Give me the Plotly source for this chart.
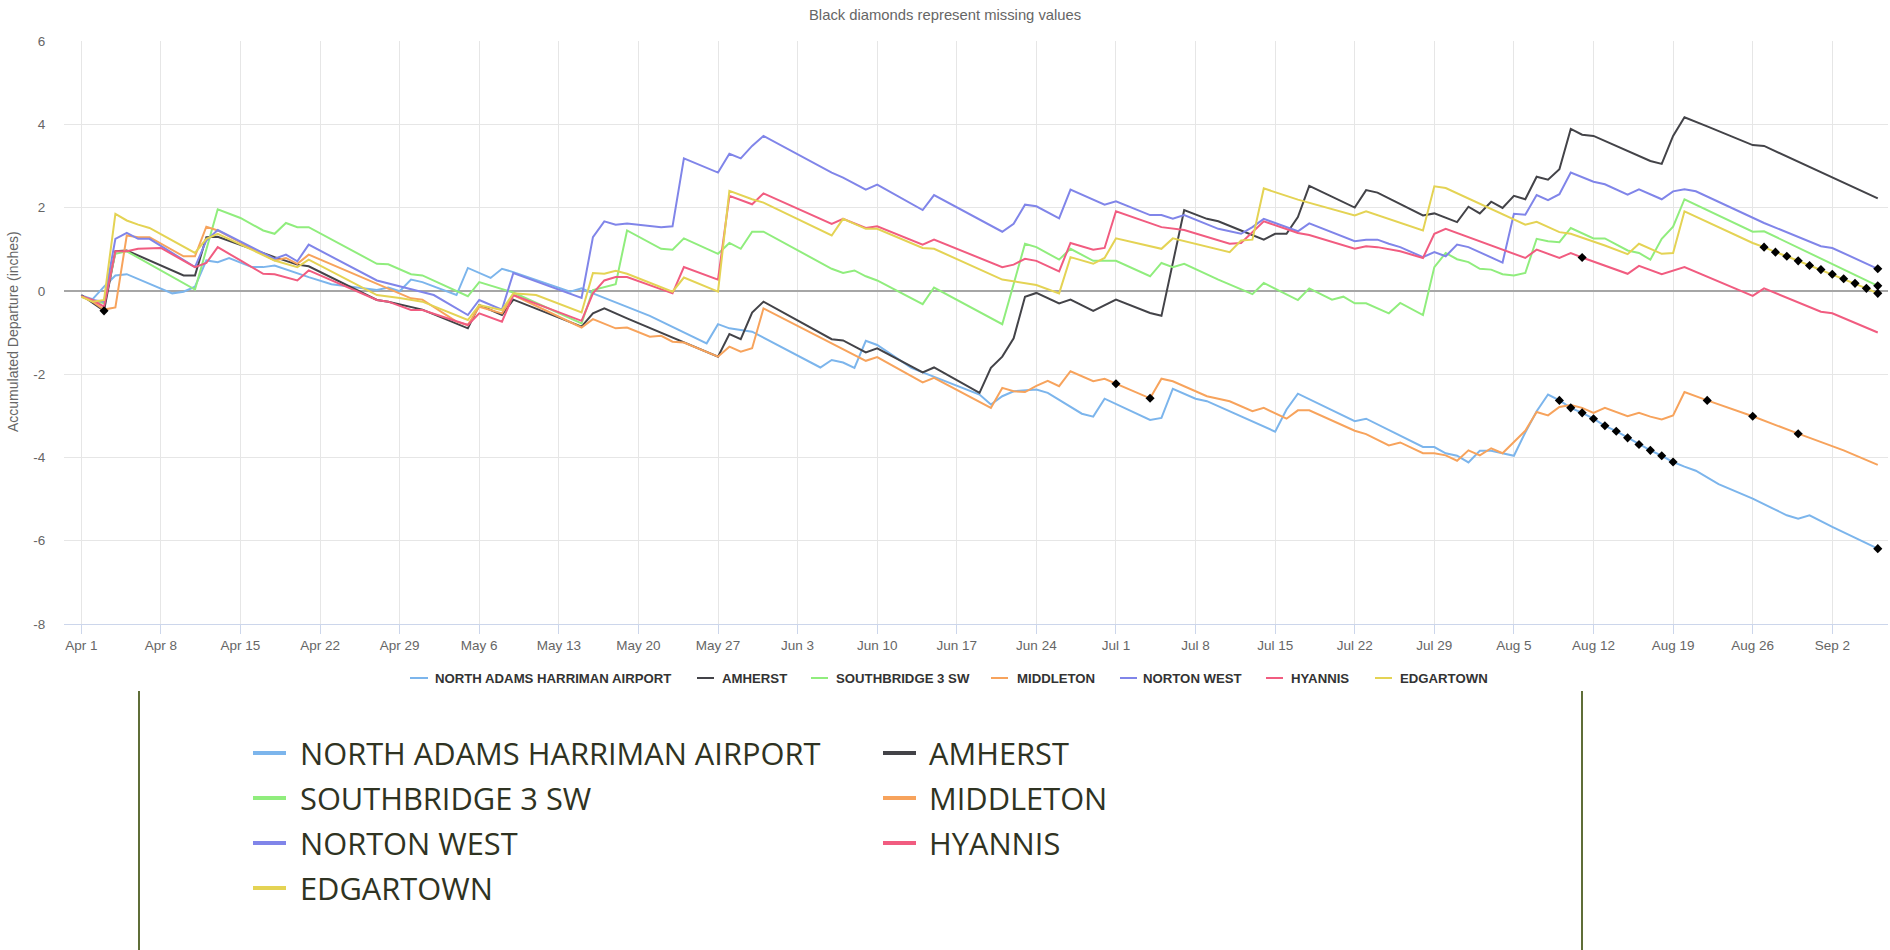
import pandas as pd
import plotly.graph_objects as go

# ---------------- data ----------------
start_date = "2019-04-01"

tick_days = [0, 7, 14, 21, 28, 35, 42, 49, 56, 63, 70, 77, 84, 91, 98, 105, 112, 119, 126, 133, 140, 147, 154]
tick_labels = ["Apr 1", "Apr 8", "Apr 15", "Apr 22", "Apr 29", "May 6", "May 13", "May 20", "May 27",
               "Jun 3", "Jun 10", "Jun 17", "Jun 24", "Jul 1", "Jul 8", "Jul 15", "Jul 22", "Jul 29",
               "Aug 5", "Aug 12", "Aug 19", "Aug 26", "Sep 2"]
y_ticks = [-8, -6, -4, -2, 0, 2, 4, 6]
y_tick_labels = ["-8", "-6", "-4", "-2", "0", "2", "4", "6"]

station_names = ["NORTH ADAMS HARRIMAN AIRPORT", "AMHERST", "SOUTHBRIDGE 3 SW", "MIDDLETON",
                 "NORTON WEST", "HYANNIS", "EDGARTOWN"]

# day offsets from Apr 1 and accumulated departure (inches)
north_adams_days = [0, 1, 2, 3, 4, 8, 9, 10, 11, 12, 13, 15, 16, 17, 20, 22, 26, 27, 28, 29, 30, 33, 34, 36, 37, 38,
                    43, 44, 45, 50, 55, 56, 57, 59, 65, 66, 67, 68, 69, 70, 73, 79, 80, 81, 82, 84, 85, 88, 89, 90,
                    94, 95, 96, 98, 99, 105, 106, 107, 112, 113, 118, 119, 120, 121, 122, 123, 124, 125, 126, 127,
                    128, 129, 130, 131, 132, 133, 134, 135, 136, 137, 138, 139, 140, 141, 142, 144, 147, 150, 151,
                    152, 154, 158]
north_adams_vals = [-0.11, -0.20, 0.10, 0.37, 0.40, -0.06, -0.02, 0.10, 0.73, 0.69, 0.79, 0.57, 0.57, 0.61, 0.33,
                    0.16, 0.02, 0.08, -0.01, 0.27, 0.21, -0.10, 0.55, 0.31, 0.53, 0.45, -0.02, 0.06, -0.06, -0.60,
                    -1.26, -0.80, -0.90, -0.98, -1.84, -1.66, -1.72, -1.85, -1.20, -1.30, -1.85, -2.49, -2.73,
                    -2.53, -2.41, -2.37, -2.45, -2.95, -3.02, -2.59, -3.10, -3.05, -2.35, -2.59, -2.65, -3.38,
                    -2.85, -2.47, -3.13, -3.07, -3.75, -3.75, -3.90, -3.96, -4.12, -3.84, -3.84, -3.90, -3.96,
                    -3.40, -2.89, -2.49, -2.63, -2.81, -2.93, -3.07, -3.24, -3.37, -3.53, -3.69, -3.83, -3.96,
                    -4.11, -4.22, -4.32, -4.64, -4.99, -5.39, -5.47, -5.39, -5.67, -6.19]
north_adams_missing = [130, 131, 132, 133, 134, 135, 136, 137, 138, 139, 140, 158]

amherst_days = [0, 1, 2, 3, 4, 9, 10, 11, 12, 17, 19, 20, 26, 27, 30, 34, 35, 37, 38, 44, 45, 46, 48, 56, 57, 58,
                59, 60, 66, 67, 69, 70, 74, 75, 79, 80, 81, 82, 83, 84, 86, 87, 89, 91, 94, 95, 97, 99, 100, 102,
                104, 105, 106, 107, 108, 112, 113, 114, 118, 119, 121, 122, 123, 124, 125, 126, 127, 128, 129,
                130, 131, 132, 133, 138, 139, 140, 141, 143, 147, 148, 158]
amherst_vals = [-0.10, -0.29, -0.48, 0.95, 0.97, 0.37, 0.37, 1.29, 1.30, 0.81, 0.63, 0.59, -0.22, -0.26, -0.45,
                -0.90, -0.34, -0.58, -0.21, -0.86, -0.54, -0.42, -0.66, -1.58, -1.04, -1.16, -0.52, -0.26, -1.16,
                -1.19, -1.48, -1.38, -1.96, -1.84, -2.45, -1.85, -1.58, -1.14, -0.14, -0.05, -0.30, -0.21, -0.48,
                -0.21, -0.53, -0.60, 1.94, 1.73, 1.67, 1.45, 1.23, 1.37, 1.37, 1.77, 2.52, 2.00, 2.42, 2.36, 1.81,
                1.86, 1.65, 2.02, 1.86, 2.14, 1.99, 2.28, 2.20, 2.74, 2.67, 2.92, 3.89, 3.75, 3.72, 3.12, 3.05,
                3.72, 4.17, 3.95, 3.50, 3.48, 2.22]
amherst_missing = [2]

southbridge_days = [0, 1, 2, 3, 4, 10, 12, 14, 16, 17, 18, 19, 20, 26, 27, 29, 30, 34, 35, 38, 44, 45, 47, 48, 51,
                    52, 53, 56, 57, 58, 59, 60, 66, 67, 68, 69, 70, 74, 75, 81, 83, 84, 86, 87, 89, 91, 94, 95, 96,
                    97, 100, 103, 104, 107, 108, 110, 111, 112, 113, 115, 116, 118, 119, 120, 121, 122, 123, 124,
                    125, 126, 127, 128, 129, 130, 131, 133, 134, 136, 137, 138, 139, 140, 141, 147, 148, 158]
southbridge_vals = [-0.14, -0.22, -0.30, 0.89, 0.95, 0.03, 1.96, 1.75, 1.45, 1.37, 1.63, 1.53, 1.53, 0.65, 0.64,
                    0.40, 0.37, -0.13, 0.21, -0.04, -0.78, 0.02, 0.16, 1.45, 1.01, 0.99, 1.26, 0.89, 1.15, 1.01,
                    1.42, 1.42, 0.53, 0.43, 0.49, 0.35, 0.25, -0.32, 0.08, -0.80, 1.13, 1.05, 0.75, 1.01, 0.72,
                    0.72, 0.35, 0.67, 0.57, 0.65, 0.27, -0.08, 0.19, -0.22, 0.06, -0.21, -0.14, -0.30, -0.30,
                    -0.54, -0.29, -0.58, 0.57, 0.91, 0.76, 0.69, 0.53, 0.51, 0.40, 0.37, 0.43, 1.25, 1.19, 1.17,
                    1.51, 1.26, 1.26, 0.97, 0.91, 0.75, 1.25, 1.54, 2.20, 1.42, 1.43, 0.12]
southbridge_missing = [158]

middleton_days = [0, 1, 2, 3, 4, 5, 6, 9, 10, 11, 12, 17, 18, 19, 20, 29, 30, 33, 34, 35, 37, 38, 44, 45, 47, 48,
                  50, 51, 52, 53, 56, 57, 58, 59, 60, 69, 70, 74, 75, 80, 81, 82, 83, 84, 85, 86, 87, 89, 90, 91,
                  94, 95, 96, 99, 100, 101, 103, 104, 106, 107, 108, 112, 113, 115, 116, 118, 119, 120, 121, 122,
                  123, 124, 125, 126, 127, 128, 129, 130, 131, 132, 133, 134, 135, 136, 137, 138, 139, 140, 141,
                  142, 143, 147, 151, 155, 158]
middleton_vals = [-0.14, -0.26, -0.45, -0.40, 1.33, 1.29, 1.29, 0.83, 0.83, 1.54, 1.45, 0.73, 0.79, 0.65, 0.87,
                  -0.18, -0.21, -0.74, -0.82, -0.38, -0.54, -0.10, -0.88, -0.68, -0.90, -0.88, -1.10, -1.08,
                  -1.22, -1.24, -1.58, -1.34, -1.46, -1.38, -0.42, -1.68, -1.59, -2.20, -2.09, -2.81, -2.33,
                  -2.41, -2.43, -2.28, -2.16, -2.29, -1.93, -2.17, -2.11, -2.23, -2.58, -2.11, -2.17, -2.53,
                  -2.59, -2.65, -2.89, -2.81, -3.07, -2.87, -2.87, -3.36, -3.44, -3.71, -3.64, -3.90, -3.90,
                  -3.95, -4.08, -3.83, -3.95, -3.78, -3.90, -3.64, -3.36, -2.91, -2.99, -2.79, -2.74, -2.81,
                  -2.93, -2.81, -2.91, -3.01, -2.93, -3.02, -3.09, -2.99, -2.43, -2.53, -2.63, -3.01, -3.43,
                  -3.83, -4.18]
middleton_missing = [91, 94, 143, 147, 151]

norton_west_days = [0, 1, 2, 3, 4, 5, 6, 10, 11, 12, 17, 18, 19, 20, 26, 31, 34, 35, 37, 38, 44, 45, 46, 47, 48,
                    51, 52, 53, 56, 57, 58, 59, 60, 66, 67, 69, 70, 74, 75, 81, 82, 83, 84, 86, 87, 90, 91, 94, 95,
                    96, 97, 100, 102, 103, 104, 107, 108, 112, 113, 114, 115, 116, 118, 119, 120, 121, 122, 125,
                    126, 127, 128, 129, 130, 131, 133, 134, 136, 137, 139, 140, 141, 142, 148, 153, 154, 158]
norton_west_vals = [-0.13, -0.22, -0.26, 1.25, 1.39, 1.25, 1.25, 0.57, 1.21, 1.46, 0.77, 0.87, 0.71, 1.11, 0.25,
                    -0.10, -0.58, -0.22, -0.45, 0.43, -0.17, 1.29, 1.67, 1.59, 1.62, 1.53, 1.55, 3.18, 2.84, 3.29,
                    3.18, 3.48, 3.72, 2.84, 2.72, 2.43, 2.55, 1.94, 2.30, 1.42, 1.61, 2.07, 2.03, 1.74, 2.43, 2.07,
                    2.15, 1.82, 1.82, 1.73, 1.82, 1.49, 1.37, 1.53, 1.73, 1.43, 1.62, 1.19, 1.23, 1.23, 1.13, 1.05,
                    0.81, 0.93, 0.83, 1.11, 1.05, 0.68, 1.85, 1.83, 2.30, 2.18, 2.32, 2.84, 2.62, 2.56, 2.31, 2.44,
                    2.20, 2.39, 2.44, 2.39, 1.63, 1.07, 1.03, 0.53]
norton_west_missing = [158]

hyannis_days = [0, 1, 2, 3, 4, 5, 7, 10, 11, 12, 14, 16, 17, 19, 20, 26, 27, 29, 30, 34, 35, 37, 38, 44, 45, 46,
                47, 48, 52, 53, 56, 57, 59, 60, 66, 67, 69, 70, 74, 75, 81, 82, 83, 84, 86, 87, 89, 90, 91, 95,
                97, 101, 102, 103, 104, 107, 108, 112, 113, 114, 116, 118, 119, 120, 127, 128, 130, 131, 132,
                136, 137, 139, 141, 147, 148, 153, 154, 158]
hyannis_vals = [-0.13, -0.22, -0.38, 0.95, 0.95, 1.01, 1.03, 0.57, 0.67, 1.05, 0.73, 0.41, 0.40, 0.25, 0.49,
                -0.22, -0.26, -0.46, -0.46, -0.82, -0.54, -0.74, -0.10, -0.72, -0.06, 0.25, 0.33, 0.33, -0.06,
                0.57, 0.27, 2.28, 2.08, 2.34, 1.61, 1.73, 1.51, 1.55, 1.11, 1.23, 0.57, 0.63, 0.77, 0.72, 0.47,
                1.15, 0.99, 1.03, 1.91, 1.53, 1.46, 1.13, 1.15, 1.42, 1.67, 1.39, 1.34, 1.01, 1.07, 1.05, 0.95,
                0.79, 1.37, 1.49, 0.79, 0.99, 0.79, 0.91, 0.80, 0.41, 0.60, 0.40, 0.57, -0.12, 0.06, -0.50,
                -0.54, -1.00]
hyannis_missing = [132]

edgartown_days = [0, 1, 2, 3, 4, 5, 6, 10, 11, 12, 17, 18, 19, 20, 26, 28, 30, 34, 35, 37, 38, 40, 44, 45, 46, 47,
                  48, 52, 53, 56, 57, 59, 60, 66, 67, 69, 70, 74, 75, 81, 84, 86, 87, 89, 90, 91, 95, 96, 101, 102,
                  103, 104, 107, 112, 113, 118, 119, 120, 127, 128, 130, 131, 134, 136, 137, 139, 140, 141, 147,
                  148, 149, 150, 151, 152, 153, 154, 155, 156, 157, 158]
edgartown_vals = [-0.14, -0.26, -0.22, 1.85, 1.69, 1.59, 1.51, 0.91, 1.25, 1.37, 0.73, 0.65, 0.57, 0.75, -0.10,
                  -0.17, -0.26, -0.70, -0.34, -0.46, -0.06, -0.10, -0.52, 0.43, 0.41, 0.48, 0.41, -0.02, 0.32,
                  -0.02, 2.40, 2.20, 2.12, 1.33, 1.73, 1.49, 1.49, 1.03, 1.01, 0.27, 0.14, -0.06, 0.81, 0.65,
                  0.79, 1.26, 1.01, 1.26, 0.93, 1.21, 1.23, 2.46, 2.19, 1.81, 1.91, 1.45, 2.51, 2.47, 1.59, 1.66,
                  1.41, 1.37, 1.09, 0.88, 1.13, 0.89, 0.91, 1.91, 1.15, 1.05, 0.93, 0.83, 0.72, 0.61, 0.51, 0.40,
                  0.29, 0.18, 0.06, -0.06]
edgartown_missing = [148, 149, 150, 151, 152, 153, 154, 155, 156, 157, 158]

# ---------------- styling ----------------
series_colors = ["#7cb5ec", "#434348", "#90ed7d", "#f7a35c", "#8085e9", "#f15c80", "#e4d354"]
hc_font = "Liberation Sans, Arial, sans-serif"

series = [
    (north_adams_days, north_adams_vals, north_adams_missing),
    (amherst_days, amherst_vals, amherst_missing),
    (southbridge_days, southbridge_vals, southbridge_missing),
    (middleton_days, middleton_vals, middleton_missing),
    (norton_west_days, norton_west_vals, norton_west_missing),
    (hyannis_days, hyannis_vals, hyannis_missing),
    (edgartown_days, edgartown_vals, edgartown_missing),
]

base = pd.Timestamp(start_date)


def to_dates(days):
    return [base + pd.Timedelta(days=d) for d in days]


fig = go.Figure()
miss_x, miss_y = [], []
for name, color, (days, vals, missing) in zip(station_names, series_colors, series):
    fig.add_trace(go.Scatter(x=to_dates(days), y=vals, mode="lines", name=name,
                             line=dict(color=color, width=2), showlegend=False))
    for d in missing:
        i = days.index(d)
        miss_x.append(base + pd.Timedelta(days=d))
        miss_y.append(vals[i])

fig.add_trace(go.Scatter(x=miss_x, y=miss_y, mode="markers", name="missing", showlegend=False,
                         marker=dict(symbol="diamond", color="black", size=7)))

# ---------------- layout (pixel geometry) ----------------
W, H = 1890, 950
L, R, T, B = 64, 1888, 41, 624


def px(x):
    return (x - L) / (R - L)


def py(y):
    return (B - y) / (B - T)


fig.update_layout(
    width=W, height=H,
    margin=dict(l=L, r=W - R, t=T, b=H - B, pad=0),
    paper_bgcolor="white", plot_bgcolor="white",
    font=dict(family=hc_font, color="#666666"),
    xaxis=dict(type="date",
               range=[base - pd.Timedelta(days=1.52), base + pd.Timedelta(days=158.9)],
               tickvals=to_dates(tick_days), ticktext=tick_labels,
               showgrid=True, gridcolor="#e6e6e6", gridwidth=1,
               showline=True, linecolor="#ccd6eb", linewidth=1,
               ticks="outside", ticklen=9, tickcolor="#ccd6eb",
               tickfont=dict(size=13.5, color="#666666", family=hc_font),
               zeroline=False, fixedrange=True),
    yaxis=dict(range=[-8, 6], tickvals=y_ticks, ticktext=y_tick_labels,
               showgrid=True, gridcolor="#e6e6e6", gridwidth=1,
               zeroline=True, zerolinecolor="#a6a6a6", zerolinewidth=2,
               showline=False, ticks="outside", ticklen=15, tickcolor="rgba(0,0,0,0)",
               tickfont=dict(size=13.5, color="#666666", family=hc_font), fixedrange=True),
)

annotations = []
shapes = []

# subtitle
annotations.append(dict(text="Black diamonds represent missing values", x=px(945), y=py(15),
                        xref="paper", yref="paper", xanchor="center", yanchor="middle", showarrow=False,
                        font=dict(size=14.8, color="#666666", family=hc_font)))
# y axis title
annotations.append(dict(text="Accumulated Departure (inches)", x=px(13), y=py(332),
                        xref="paper", yref="paper", xanchor="center", yanchor="middle", showarrow=False,
                        textangle=-90, font=dict(size=14, color="#666666", family=hc_font)))

# chart legend (single row under the axis)
legend_items_px = [(410, 428, 433), (697, 714, 720), (811, 828, 834), (991, 1008, 1015),
                   (1120, 1137, 1141), (1266, 1283, 1289), (1375, 1392, 1398)]
legend_y = 678
for name, color, (sx0, sx1, tx) in zip(station_names, series_colors, legend_items_px):
    shapes.append(dict(type="line", xref="paper", yref="paper", x0=px(sx0), x1=px(sx1),
                       y0=py(legend_y), y1=py(legend_y), line=dict(color=color, width=2)))
    annotations.append(dict(text=name, x=px(tx), y=py(legend_y), xref="paper", yref="paper",
                            xanchor="left", yanchor="middle", showarrow=False,
                            font=dict(size=13.2, color="#333333", family=hc_font, weight="bold")))

# large legend panel below
panel_left, panel_right, panel_top, panel_bottom = 139, 1582, 691, 950
for bx in (panel_left, panel_right):
    shapes.append(dict(type="line", xref="paper", yref="paper", x0=px(bx), x1=px(bx),
                       y0=py(panel_top), y1=py(panel_bottom), line=dict(color="#5f6e38", width=2)))

big_cols = [(253, 286, 298), (883, 916, 927)]
big_rows = [753, 798, 843, 888]
for k, (name, color) in enumerate(zip(station_names, series_colors)):
    sx0, sx1, tx = big_cols[k % 2]
    ry = big_rows[k // 2]
    shapes.append(dict(type="line", xref="paper", yref="paper", x0=px(sx0), x1=px(sx1),
                       y0=py(ry), y1=py(ry), line=dict(color=color, width=4)))
    annotations.append(dict(text=name, x=px(tx), y=py(ry), xref="paper", yref="paper",
                            xanchor="left", yanchor="middle", showarrow=False,
                            font=dict(size=30.8, color="#2f3322", family="Open Sans")))

fig.update_layout(annotations=annotations, shapes=shapes)
fig.write_html("out.html", config={"displayModeBar": False},
               post_script="document.body.style.margin='0';document.body.style.overflow='hidden';")
